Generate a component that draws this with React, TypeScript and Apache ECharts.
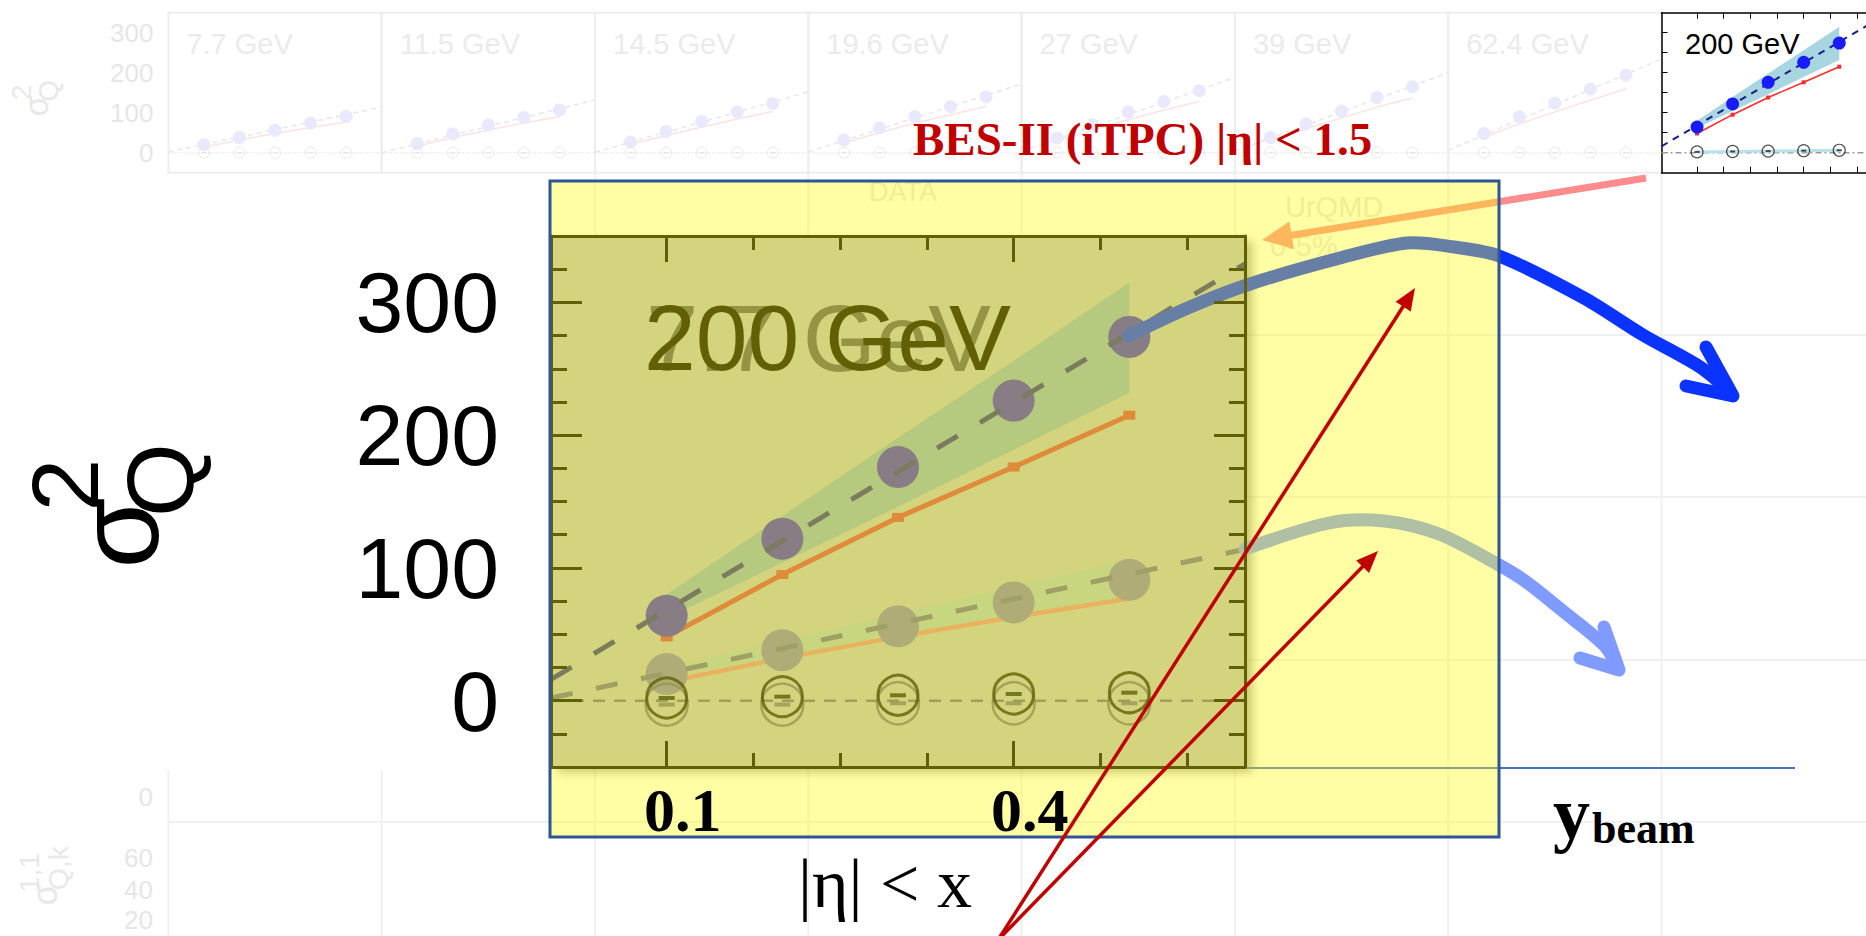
import React, { useEffect, useRef } from "react";
import * as echarts from "echarts";

// ---------------- data ----------------
const etaCuts = [0.1, 0.2, 0.3, 0.4, 0.5];
const fitX = [0, 0.6];
const zeroLineY = [0, 0];
const xLongTicks = [0.1, 0.4];
const xShortTicks = [0.175, 0.25, 0.325, 0.475, 0.55];
const xAllTicks = [0.1, 0.175, 0.25, 0.325, 0.4, 0.475, 0.55];
const xTickLabels = [0.1, 0.4];
const yLongTicks = [0, 100, 200, 300];
const yShortTicks = [-25, 25, 50, 75, 125, 150, 175, 225, 250, 275, 325];
const yInsetTicks = [0, 50, 100, 150, 200, 250, 300];
const yTickLabels = [0, 100, 200, 300];

const energies = ["7.7 GeV", "11.5 GeV", "14.5 GeV", "19.6 GeV", "27 GeV", "39 GeV", "62.4 GeV", "200 GeV"];

// 200 GeV (highlighted)
const sigma200 = [64, 122, 176, 226, 274];
const urqmd200 = [48, 95, 138, 176, 215];
const band200Lo = [62, 104, 146, 189, 232];
const band200Hi = [80, 139, 198, 256, 315];
const fit200 = [16, 329];
const null200 = [2, 3, 4, 5, 6];

// 7.7 GeV (ghost in the enlarged plot)
const sigma77 = [20, 38, 56, 74, 91];
const urqmd77 = [14, 32, 48, 63, 77];
const band77Lo = [18, 33, 48, 62, 76];
const band77Hi = [24, 45, 66, 86, 106];
const fit77 = [2, 114];
const null77 = [-3, -3, -2, -2, -2];

// other energies (faint background panels)
const sigma115 = [23, 47, 69, 88, 107];
const urqmd115 = [17, 38, 57, 74, 90];
const fit115 = [0, 132];
const sigma145 = [27, 53, 78, 102, 123];
const urqmd145 = [21, 43, 64, 84, 103];
const fit145 = [1, 152];
const sigma196 = [32, 62, 90, 115, 140];
const urqmd196 = [25, 50, 74, 95, 116];
const fit196 = [2, 172];
const sigma27 = [37, 70, 102, 128, 155];
const urqmd27 = [29, 56, 83, 106, 128];
const fit27 = [3, 188];
const sigma39 = [38, 72, 104, 138, 165];
const urqmd39 = [31, 60, 87, 114, 137];
const fit39 = [4, 200];
const sigma624 = [48, 90, 124, 159, 194];
const urqmd624 = [38, 72, 102, 131, 160];
const fit624 = [6, 234];
const nullBES = [0, 0, 0, 0, 0];

// ---------------- helpers ----------------
const pts = (ys: number[]) => etaCuts.map((x, i) => [x, ys[i]]);
const fitPts = (ys: number[]) => fitX.map((x, i) => [x, ys[i]]);

const panelSets = [
  { sigma: sigma77, urqmd: urqmd77, fit: fit77, nul: nullBES },
  { sigma: sigma115, urqmd: urqmd115, fit: fit115, nul: nullBES },
  { sigma: sigma145, urqmd: urqmd145, fit: fit145, nul: nullBES },
  { sigma: sigma196, urqmd: urqmd196, fit: fit196, nul: nullBES },
  { sigma: sigma27, urqmd: urqmd27, fit: fit27, nul: nullBES },
  { sigma: sigma39, urqmd: urqmd39, fit: fit39, nul: nullBES },
  { sigma: sigma624, urqmd: urqmd624, fit: fit624, nul: nullBES },
];

const P_LEFT = 168.4;
const P_STEP = 213.3;
const P_TOP = 12.7;
const P_H = 160;

function bandSeries(xi: number, yi: number, lo: number[], hi: number[], color: string, z: number) {
  return {
    type: "custom",
    xAxisIndex: xi,
    yAxisIndex: yi,
    z,
    silent: true,
    data: etaCuts.map((x, i) => [x, lo[i], hi[i]]),
    renderItem: (params: any, api: any) => {
      if (params.dataIndex !== 0) return { type: "group", children: [] };
      const top = etaCuts.map((x, i) => api.coord([x, hi[i]]));
      const bot = etaCuts.map((x, i) => api.coord([x, lo[i]])).reverse();
      return { type: "polygon", shape: { points: top.concat(bot) }, style: { fill: color } };
    },
  };
}

function lineS(xi: number, yi: number, data: any[], color: string, width: number, z: number, type: any = "solid", symbol = "none", symbolSize: any = 0) {
  return {
    type: "line",
    xAxisIndex: xi,
    yAxisIndex: yi,
    data,
    z,
    silent: true,
    symbol,
    symbolSize,
    showSymbol: symbol !== "none",
    itemStyle: { color },
    lineStyle: { color, width, type },
  };
}

function dotS(xi: number, yi: number, data: any[], color: string, size: number, z: number) {
  return {
    type: "scatter",
    xAxisIndex: xi,
    yAxisIndex: yi,
    data,
    z,
    silent: true,
    symbol: "circle",
    symbolSize: size,
    itemStyle: { color, opacity: 1 },
  };
}

function nullS(xi: number, yi: number, data: any[], color: string, size: number, bw: number, dash: number[], z: number) {
  return [
    {
      type: "scatter", xAxisIndex: xi, yAxisIndex: yi, data, z, silent: true,
      symbol: "circle", symbolSize: size,
      itemStyle: { color: "rgba(0,0,0,0)", borderColor: color, borderWidth: bw },
    },
    {
      type: "scatter", xAxisIndex: xi, yAxisIndex: yi, data, z, silent: true,
      symbol: "rect", symbolSize: dash, itemStyle: { color },
    },
  ];
}

function arrow(x1: number, y1: number, x2: number, y2: number, color: string, w: number, hl: number, hw: number, z: number) {
  const dx = x2 - x1, dy = y2 - y1;
  const L = Math.hypot(dx, dy);
  const ux = dx / L, uy = dy / L;
  const bx = x2 - ux * hl, by = y2 - uy * hl;
  const px = -uy, py = ux;
  return [
    { type: "line", z, silent: true, shape: { x1, y1, x2: bx + ux * 3, y2: by + uy * 3 }, style: { stroke: color, lineWidth: w } },
    { type: "polygon", z, silent: true, shape: { points: [[x2, y2], [bx + px * hw, by + py * hw], [bx - px * hw, by - py * hw]] }, style: { fill: color } },
  ];
}

function txt(text: string, x: number, y: number, size: number, color: string, z: number, opts: any = {}) {
  const align = opts.align || "left";
  const va = opts.va || "middle";
  return {
    type: "text", x, y, z, silent: true, rotation: opts.rotation || 0,
    style: {
      text, fill: color, fontSize: size, fontFamily: opts.family || "Liberation Sans",
      fontWeight: opts.weight || "normal",
      align, textAlign: align, verticalAlign: va, textVerticalAlign: va,
    },
  };
}

function sigmaLabel(ox: number, oy: number, s: number, color: string, sup: string, sub: string, z: number) {
  const R = Math.PI / 2;
  return {
    type: "group", x: ox, y: oy, scaleX: s, scaleY: s, z, silent: true,
    children: [
      txt("σ", -40, -34, 115, color, z, { align: "center", rotation: R }),
      txt(sup, -93, -69 - sup.length * 13, 95, color, z, { align: "center", rotation: R }),
      txt(sub, 2, -69 - sub.length * 18, 95, color, z, { align: "center", rotation: R }),
    ],
  };
}

function buildOption() {
  const OLIVE_BASE = "#b8bcc1";
  const axisBlack = { color: "#000", width: 3 };
  const lineOn = (ls: any) => ({ show: true, onZero: false, lineStyle: ls });
  const lineOff = { show: false, onZero: false };

  const grids: any[] = [
    {
      left: 551, top: 236, width: 694, height: 531, show: true, backgroundColor: OLIVE_BASE,
      borderWidth: 0, shadowBlur: 10, shadowColor: "rgba(0,0,0,0.35)", shadowOffsetX: 7, shadowOffsetY: 5,
      z: 4, outerBoundsMode: "none", containLabel: false,
    },
  ];
  for (let k = 0; k < 8; k++) {
    grids.push({
      left: P_LEFT + P_STEP * k, top: P_TOP, width: P_STEP, height: P_H, show: true,
      backgroundColor: k === 7 ? "#ffffff" : "rgba(0,0,0,0)",
      borderColor: k === 7 ? "rgba(0,0,0,0)" : "#eeeeee", borderWidth: 2,
      z: k === 7 ? 2 : 0, outerBoundsMode: "none", containLabel: false,
    });
  }

  const baseX = { type: "value", min: 0, max: 0.6, splitLine: { show: false } };
  const baseY = { type: "value", min: -50, max: 350, splitLine: { show: false } };

  const xAxes: any[] = [
    { ...baseX, gridIndex: 0, position: "bottom", z: 12, axisLine: lineOn(axisBlack),
      axisTick: { show: true, inside: true, length: 26, customValues: xLongTicks, lineStyle: axisBlack }, axisLabel: { show: false } },
    { ...baseX, gridIndex: 0, position: "bottom", z: 12, axisLine: lineOff,
      axisTick: { show: true, inside: true, length: 14, customValues: xShortTicks, lineStyle: axisBlack }, axisLabel: { show: false } },
    { ...baseX, gridIndex: 0, position: "top", z: 12, axisLine: lineOn(axisBlack),
      axisTick: { show: true, inside: true, length: 26, customValues: xLongTicks, lineStyle: axisBlack }, axisLabel: { show: false } },
    { ...baseX, gridIndex: 0, position: "top", z: 12, axisLine: lineOff,
      axisTick: { show: true, inside: true, length: 14, customValues: xShortTicks, lineStyle: axisBlack }, axisLabel: { show: false } },
    { ...baseX, gridIndex: 0, position: "bottom", z: 30, axisLine: lineOff, axisTick: { show: false },
      axisLabel: { show: true, customValues: xTickLabels, formatter: (v: number) => v.toFixed(1), fontSize: 62,
        fontWeight: "bold", fontFamily: "Liberation Serif", color: "#000", margin: 43, verticalAlign: "middle", padding: [0, 0, 0, 32] } },
  ];
  for (let k = 0; k < 7; k++) {
    xAxes.push({ ...baseX, gridIndex: k + 1, show: false, axisLine: lineOff });
  }
  const insetLine = { color: "#000", width: 1.5 };
  const insetTick = { color: "#000", width: 1 };
  xAxes.push(
    { ...baseX, gridIndex: 8, position: "bottom", z: 3, axisLine: lineOn(insetLine),
      axisTick: { show: true, inside: true, length: 6, customValues: xAllTicks, lineStyle: insetTick }, axisLabel: { show: false } },
    { ...baseX, gridIndex: 8, position: "top", z: 3, axisLine: lineOn(insetLine),
      axisTick: { show: true, inside: true, length: 6, customValues: xAllTicks, lineStyle: insetTick }, axisLabel: { show: false } },
  );

  const yAxes: any[] = [
    { ...baseY, gridIndex: 0, position: "left", z: 12, axisLine: lineOn(axisBlack),
      axisTick: { show: true, inside: true, length: 31, customValues: yLongTicks, lineStyle: axisBlack },
      axisLabel: { show: true, customValues: yTickLabels, fontSize: 86, fontFamily: "Liberation Sans", color: "#000",
        margin: 52, verticalAlign: "middle", padding: [18, 0, 0, 0] } },
    { ...baseY, gridIndex: 0, position: "left", z: 12, axisLine: lineOff,
      axisTick: { show: true, inside: true, length: 16, customValues: yShortTicks, lineStyle: axisBlack }, axisLabel: { show: false } },
    { ...baseY, gridIndex: 0, position: "right", z: 12, axisLine: lineOn(axisBlack),
      axisTick: { show: true, inside: true, length: 31, customValues: yLongTicks, lineStyle: axisBlack }, axisLabel: { show: false } },
    { ...baseY, gridIndex: 0, position: "right", z: 12, axisLine: lineOff,
      axisTick: { show: true, inside: true, length: 16, customValues: yShortTicks, lineStyle: axisBlack }, axisLabel: { show: false } },
  ];
  for (let k = 0; k < 7; k++) {
    if (k === 0) {
      yAxes.push({ ...baseY, gridIndex: 1, position: "left", z: 0, axisLine: lineOff, axisTick: { show: false },
        axisLabel: { show: true, customValues: yTickLabels, fontSize: 26, fontFamily: "Liberation Sans", color: "#e6e6e6", margin: 15 } });
    } else {
      yAxes.push({ ...baseY, gridIndex: k + 1, show: false, axisLine: lineOff });
    }
  }
  yAxes.push(
    { ...baseY, gridIndex: 8, position: "left", z: 3, axisLine: lineOn(insetLine),
      axisTick: { show: true, inside: true, length: 6, customValues: yInsetTicks, lineStyle: insetTick }, axisLabel: { show: false } },
    { ...baseY, gridIndex: 8, position: "right", z: 3, axisLine: lineOn(insetLine),
      axisTick: { show: true, inside: true, length: 6, customValues: yInsetTicks, lineStyle: insetTick }, axisLabel: { show: false } },
  );

  // ---- series ----
  const series: any[] = [];
  // faint background panels
  panelSets.forEach((set, k) => {
    const xi = 5 + k, yi = 4 + k;
    series.push(lineS(xi, yi, fitPts(zeroLineY), "#ececec", 1.5, 1, "dotted"));
    series.push(lineS(xi, yi, pts(set.urqmd), "#fbe3e3", 1.5, 1));
    series.push(dotS(xi, yi, pts(set.sigma), "#e9e9fb", 13, 1));
    series.push(...nullS(xi, yi, pts(set.nul), "#e2e2e2", 11, 1, [5, 1.5], 1));
    series.push(lineS(xi, yi, fitPts(set.fit), "#e6e6f0", 1.5, 1, [5, 4]));
  });
  // inset 200 GeV
  {
    const xi = 12, yi = 11;
    series.push(bandSeries(xi, yi, band200Lo, band200Hi, "#a8d6e0", 3));
    series.push(lineS(xi, yi, fitPts(zeroLineY), "#9a9a9a", 1.5, 3, [6, 3, 2, 3]));
    series.push(lineS(xi, yi, pts(null200), "#b8e2ec", 3, 3));
    series.push(lineS(xi, yi, pts(urqmd200), "#ff2a2a", 1.5, 3, "solid", "rect", 4));
    series.push(dotS(xi, yi, pts(sigma200), "#1a1aff", 13, 3));
    series.push(...nullS(xi, yi, pts(null200), "#222222", 12, 1.2, [5, 2], 3));
    series.push(lineS(xi, yi, fitPts(fit200), "#1c1c8c", 2, 3, [7, 6]));
  }
  // main enlarged panel (colors are pre-overlay tones)
  series.push(bandSeries(0, 0, band77Lo, band77Hi, "#a6c0c4", 5));
  series.push(bandSeries(0, 0, band200Lo, band200Hi, "#88aac3", 5));
  series.push(lineS(0, 0, fitPts(zeroLineY), "#66668a", 2.5, 6, [12, 9]));
  series.push(lineS(0, 0, pts(urqmd77), "#da858f", 4.5, 7));
  series.push(lineS(0, 0, pts(urqmd200), "#cb4654", 5, 7, "solid", "rect", [12, 9]));
  series.push(dotS(0, 0, pts(sigma77), "#807bb8", 42, 8));
  series.push(dotS(0, 0, pts(sigma200), "#3f2ece", 42, 8));
  series.push(...nullS(0, 0, pts(null77), "#5a5a7a", 42, 2.5, [16, 4], 9));
  series.push(...nullS(0, 0, pts(null200), "#000000", 40, 3, [16, 4], 9));
  series.push(lineS(0, 0, fitPts(fit77), "#66689a", 5, 10, [22, 24]));
  series.push(lineS(0, 0, fitPts(fit200), "#2a2e8e", 5, 10, [24, 26]));

  // ---- graphic annotations ----
  const g: any[] = [];
  // faint frames of the background panel rows
  [335, 497, 660, 822].forEach((y) =>
    g.push({ type: "line", z: 0, silent: true, shape: { x1: P_LEFT, y1: y, x2: 1866, y2: y }, style: { stroke: "#f0f0f0", lineWidth: 2 } })
  );
  for (let i = 0; i <= 8; i++) {
    const x = P_LEFT + P_STEP * i;
    g.push({ type: "line", z: 0, silent: true, shape: { x1: x, y1: 173, x2: x, y2: 936 }, style: { stroke: "#f0f0f0", lineWidth: 2 } });
  }
  // faint panel titles
  for (let k = 0; k < 7; k++) {
    g.push(txt(energies[k], P_LEFT + P_STEP * k + 18, 44, 29, "#ebebeb", 0));
  }
  g.push(sigmaLabel(48, 116, 0.29, "#e8e8e8", "2", "Q", 0));
  g.push(sigmaLabel(57, 905, 0.3, "#e8e8e8", "1,1", "Q,k", 0));
  g.push(txt("0", 153, 797, 26, "#e6e6e6", 0, { align: "right" }));
  g.push(txt("60", 153, 858, 26, "#e6e6e6", 0, { align: "right" }));
  g.push(txt("40", 153, 890, 26, "#e6e6e6", 0, { align: "right" }));
  g.push(txt("20", 153, 920, 26, "#e6e6e6", 0, { align: "right" }));
  g.push(txt("DATA", 869, 192, 27, "#e6e6e6", 1));
  g.push(txt("UrQMD", 1285, 207, 29, "#e6e6e6", 1));
  g.push(txt("0-5%", 1270, 246, 29, "#e6e6e6", 1));
  // white cover on the left
  g.push({ type: "rect", z: 3, silent: true, shape: { x: 0, y: 174, width: 550, height: 596 }, style: { fill: "#ffffff" } });
  // inset title
  g.push(txt(energies[7], 1685, 44, 29, "#000", 4));
  // enlarged panel titles (overlapping ghost)
  g.push(txt(energies[0], 646, 338, 94, "rgba(40,40,60,0.7)", 7));
  g.push(txt(energies[7], 644, 338, 93, "#000", 7.5));
  // pink arrow from inset
  g.push(...arrow(1646, 178, 1262, 240, "#ff8c8c", 7, 30, 14, 11));
  // blue curves
  g.push({
    type: "polyline", z: 11, silent: true,
    shape: { points: [[1128, 336], [1190, 307], [1250, 284], [1340, 258], [1407, 243], [1454, 247], [1499, 256], [1584, 298], [1643, 335], [1700, 367], [1728, 390]], smooth: 0.3 },
    style: { stroke: "#0a33ff", lineWidth: 13, lineCap: "round", lineJoin: "round", fill: null },
  });
  g.push({
    type: "polyline", z: 11, silent: true, shape: { points: [[1706, 347], [1733, 396], [1686, 386]] },
    style: { stroke: "#0a33ff", lineWidth: 13, lineCap: "round", lineJoin: "round", fill: null },
  });
  g.push({
    type: "polyline", z: 11, silent: true,
    shape: { points: [[1245, 549], [1329, 523], [1384, 521], [1439, 534], [1499, 565], [1525, 581], [1564, 612], [1604, 645], [1616, 664]], smooth: 0.3 },
    style: { stroke: "#7f9bff", lineWidth: 13, lineCap: "round", lineJoin: "round", fill: null },
  });
  g.push({
    type: "polyline", z: 11, silent: true, shape: { points: [[1604, 627], [1619, 670], [1580, 658]] },
    style: { stroke: "#7f9bff", lineWidth: 13, lineCap: "round", lineJoin: "round", fill: null },
  });
  g.push({ type: "line", z: 11, silent: true, shape: { x1: 1246, y1: 768, x2: 1795, y2: 768 }, style: { stroke: "#4472c4", lineWidth: 2 } });
  // yellow highlight overlay
  g.push({ type: "rect", z: 20, silent: true, shape: { x: 550, y: 181, width: 949, height: 656 }, style: { fill: "rgba(255,252,16,0.38)" } });
  g.push({ type: "rect", z: 21, silent: true, shape: { x: 550, y: 181, width: 949, height: 656 }, style: { fill: null, stroke: "#2f5597", lineWidth: 3 } });
  // red pointer arrows
  g.push(...arrow(998, 940, 1415, 288, "#c00000", 3.5, 22, 9, 31));
  g.push(...arrow(998, 940, 1378, 551, "#c00000", 3.5, 22, 9, 31));
  // texts
  g.push(txt("BES-II (iTPC) |η| < 1.5", 913, 139, 47, "#c00000", 30, { family: "Liberation Serif", weight: "bold" }));
  g.push(txt("|η| < x", 885, 883, 70, "#000", 30, { family: "Liberation Serif", align: "center" }));
  g.push(txt("y", 1553, 813, 74, "#000", 30, { family: "Liberation Serif", weight: "bold" }));
  g.push(txt("beam", 1592, 828, 44, "#000", 30, { family: "Liberation Serif", weight: "bold" }));
  g.push(sigmaLabel(158, 567, 1, "#000", "2", "Q", 30));

  return {
    animation: false,
    backgroundColor: "#ffffff",
    grid: grids,
    xAxis: xAxes,
    yAxis: yAxes,
    series,
    graphic: { elements: g },
  };
}

export default function App() {
  const ref = useRef<HTMLDivElement>(null);
  useEffect(() => {
    const chart = echarts.init(ref.current!, undefined, { renderer: "svg" });
    chart.setOption(buildOption() as any);
    return () => chart.dispose();
  }, []);
  return (
    <div
      ref={ref}
      style={{ position: "fixed", left: 0, top: 0, width: 1866, height: 936, background: "#fff" }}
    />
  );
}
